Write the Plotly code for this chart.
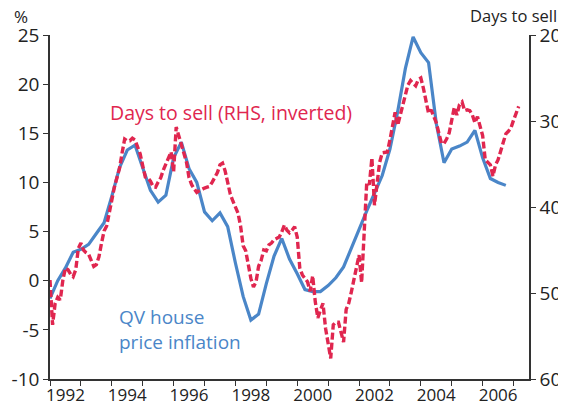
import numpy as np
import plotly.graph_objects as go

# QV house price inflation, % (quarterly, from 1992 Q1)
qv_inflation = [
    -1.8, 0.0, 1.3, 2.9, 3.2, 3.7, 4.8, 5.9,
    8.6, 11.5, 13.3, 13.8, 11.5, 9.2, 8.0, 8.7,
    12.5, 14.1, 11.4, 10.0, 7.0, 6.1, 6.9, 5.5,
    1.8, -1.6, -4.0, -3.4, -0.3, 2.5, 4.3, 2.2,
    0.7, -0.9, -1.1, -1.1, -0.5, 0.3, 1.4, 3.3,
    5.4, 7.1, 8.9, 10.7, 13.4, 17.2, 21.6, 24.8,
    23.2, 22.2, 16.0, 12.0, 13.4, 13.7, 14.1, 15.3,
    12.5, 10.4, 10.0, 9.7,
]

# Days to sell (monthly, from Jan 1992), plotted on inverted right axis
days_to_sell = [
    48.5, 53.7, 51.2, 50.5, 50.8, 48.5, 47.1, 47.3, 47.8, 48.1, 47.3, 44.8,
    44.2, 45.0, 45.3, 45.5, 46.2, 46.9, 46.7, 45.8, 44.2, 42.8, 42.2, 40.9,
    39.2, 37.7, 36.7, 35.5, 33.7, 32.1, 32.3, 32.3, 32.0, 32.2, 33.0, 33.8,
    35.2, 36.5, 36.6, 37.0, 37.6, 37.7, 37.1, 36.6, 35.7, 35.0, 34.1, 33.6,
    35.9, 30.7, 31.7, 32.7, 33.5, 34.8, 36.6, 37.4, 37.9, 38.3, 38.1, 37.9,
    37.8, 37.7, 37.6, 37.1, 36.6, 36.0, 35.1, 34.9, 35.8, 37.1, 38.5, 39.3,
    40.0, 40.7, 42.2, 44.5, 45.1, 47.0, 48.3, 49.3, 48.7, 46.9, 46.2, 45.0,
    45.1, 44.4, 44.2, 43.8, 43.6, 43.5, 42.9, 42.1, 42.7, 43.0, 42.7, 42.3,
    43.5, 47.1, 47.9, 48.3, 48.7, 49.8, 48.0, 51.0, 52.9, 52.0, 51.2, 54.1,
    56.0, 57.6, 53.7, 53.4, 53.4, 54.7, 55.7, 51.9, 51.2, 49.9, 48.3, 47.1,
    45.6, 48.8, 43.3, 37.1, 37.4, 34.3, 39.8, 36.9, 34.8, 33.7, 33.6, 33.6,
    32.2, 30.5, 29.0, 30.5, 29.3, 28.0, 27.0, 25.8, 25.3, 25.6, 25.9, 25.2,
    25.0, 26.2, 27.6, 29.1, 28.7, 29.4, 30.2, 31.4, 32.6, 32.6, 32.1, 31.4,
    29.7, 28.4, 29.3, 28.1, 27.8, 28.8, 28.7, 28.8, 29.3, 30.2, 29.5, 30.8,
    31.7, 34.5, 34.8, 35.1, 36.4, 35.1, 34.5, 33.4, 32.4, 31.5, 31.2, 30.8,
    29.9, 29.1, 28.3,
]

year_labels = ["1992", "1994", "1996", "1998", "2000", "2002", "2004", "2006"]
left_ticks = [-10, -5, 0, 5, 10, 15, 20, 25]
left_tick_text = ["-10", "-5", "0", "5", "10", "15", "20", "25"]
right_ticks = [20, 30, 40, 50, 60]

x_qv = 1992 + np.arange(len(qv_inflation)) / 4.0
x_days = 1992 + np.arange(len(days_to_sell)) / 12.0

BLUE = "#4a86c8"
RED = "#e0264f"
AXIS = "#333333"
FONT = "Open Sans"

fig = go.Figure()
fig.add_trace(go.Scatter(x=x_qv, y=qv_inflation, mode="lines",
                         line=dict(color=BLUE, width=3.2), yaxis="y"))
fig.add_trace(go.Scatter(x=x_days, y=days_to_sell, mode="lines",
                         line=dict(color=RED, width=3.4, dash="7px,3px"), yaxis="y2"))

fig.update_layout(
    template="none",
    width=566, height=405,
    margin=dict(l=42, r=45, t=27, b=34, autoexpand=False),
    paper_bgcolor="white", plot_bgcolor="white",
    showlegend=False,
    font=dict(family=FONT, color="#222222", size=17),
    xaxis=dict(
        range=[1992, 2007.5], showgrid=False, zeroline=False, automargin=False,
        showline=True, linecolor=AXIS, linewidth=1.5,
        tickmode="array", tickvals=[int(y) + 0.5 for y in year_labels],
        ticktext=year_labels, ticks="", tickfont=dict(size=17),
        minor=dict(ticks="outside", ticklen=5, tickwidth=1.2, tickcolor=AXIS,
                   tickmode="linear", tick0=1992, dtick=1, showgrid=False),
    ),
    yaxis=dict(
        range=[-10, 25], showgrid=False, zeroline=False, automargin=False,
        showline=True, linecolor=AXIS, linewidth=1.5,
        tickmode="array", tickvals=left_ticks, ticktext=left_tick_text,
        ticks="outside", ticklen=5, tickcolor=AXIS, tickwidth=1.2,
        tickfont=dict(size=19),
    ),
    yaxis2=dict(
        range=[60, 20], overlaying="y", side="right", automargin=False,
        showgrid=False, zeroline=False,
        showline=True, linecolor=AXIS, linewidth=1.5,
        tickmode="array", tickvals=right_ticks,
        ticks="outside", ticklen=5, tickcolor=AXIS, tickwidth=1.2,
        tickfont=dict(size=19),
    ),
)

fig.add_annotation(text="Days to sell (RHS, inverted)", x=1997.85, y=17.1,
                   xref="x", yref="y", showarrow=False,
                   xanchor="center", yanchor="middle",
                   font=dict(color=RED, size=19.5, family=FONT))
fig.add_annotation(text="QV house<br>price inflation", x=1994.17, y=-5.0,
                   xref="x", yref="y", xanchor="left", yanchor="middle",
                   align="left", showarrow=False,
                   font=dict(color=BLUE, size=19, family=FONT))
fig.add_annotation(text="%", x=-0.0595, y=1.0552, xref="paper", yref="paper",
                   xanchor="center", yanchor="middle",
                   showarrow=False, font=dict(size=17, family=FONT))
fig.add_annotation(text="Days to sell", x=0.9666, y=1.0566, xref="paper", yref="paper",
                   xanchor="center", yanchor="middle",
                   showarrow=False, font=dict(size=16.5, family=FONT))

fig.write_html("out.html")
